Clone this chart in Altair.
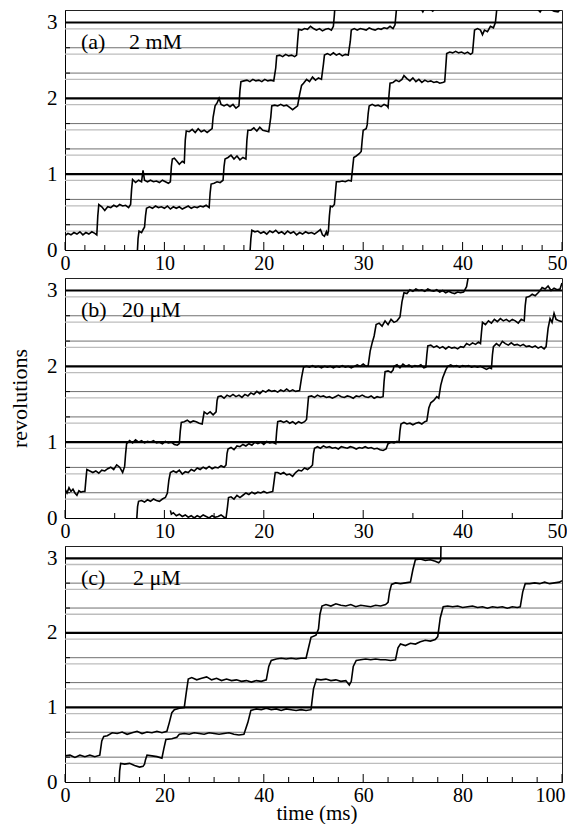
import altair as alt
import pandas as pd

FONT = "Liberation Serif"

panel_tags = ["(a)", "(b)", "(c)"]
concentrations = ["2 mM", "20 μM", "2 μM"]

y_labels = [0, 1, 2, 3]
rev_lines = [1, 2, 3]
third_lines = [0.333, 0.667, 1.333, 1.667, 2.333, 2.667]
substep_lines = [0.25, 0.583, 0.917, 1.25, 1.583, 1.917, 2.25, 2.583, 2.917]

x_major_ab = [0, 10, 20, 30, 40, 50]
x_minor_a = [2, 4, 6, 8, 12, 14, 16, 18, 22, 24, 26, 28, 32, 34, 36, 38, 42, 44, 46, 48]
x_minor_b = [5, 15, 25, 35, 45]
x_major_c = [0, 20, 40, 60, 80, 100]
x_minor_c = [5, 10, 15, 25, 30, 35, 45, 50, 55, 65, 70, 75, 85, 90, 95]

# ---------------- panel (a) 2 mM : time (ms), revolutions ----------------
trace_a1 = [
    [0, 0.19], [0.3, 0.22], [0.6, 0.2], [0.9, 0.23], [1.2, 0.21], [1.5, 0.24], [1.8, 0.2], [2.1, 0.23],
    [2.4, 0.21], [2.7, 0.24], [3.0, 0.22], [3.2, 0.2], [3.3, 0.45], [3.4, 0.6], [3.7, 0.57], [4.0, 0.52],
    [4.3, 0.57], [4.6, 0.56], [4.9, 0.59], [5.2, 0.57], [5.5, 0.6], [5.8, 0.58], [6.1, 0.59], [6.4, 0.56],
    [6.6, 0.6], [6.7, 0.8], [6.8, 0.93], [7.1, 0.89], [7.4, 0.92], [7.7, 0.9], [7.85, 1.05], [8.0, 0.92],
    [8.3, 0.9], [8.6, 0.92], [8.9, 0.9], [9.2, 0.91], [9.5, 0.89], [9.8, 0.92], [10.1, 0.9], [10.4, 0.88],
    [10.6, 0.9], [10.7, 1.1], [10.8, 1.2], [11.0, 1.21], [11.2, 1.18], [11.5, 1.13], [11.8, 1.17], [12.0, 1.15],
    [12.1, 1.45], [12.2, 1.57], [12.5, 1.56], [12.8, 1.59], [13.1, 1.55], [13.4, 1.6], [13.7, 1.56], [14.0, 1.58],
    [14.3, 1.55], [14.6, 1.58], [14.8, 1.6], [14.9, 1.75], [15.1, 1.9], [15.3, 1.94], [15.5, 2.0], [15.7, 1.92],
    [16.0, 1.9], [16.3, 1.92], [16.6, 1.89], [16.9, 1.92], [17.2, 1.87], [17.5, 1.9], [17.6, 2.1], [17.7, 2.22],
    [18.0, 2.23], [18.3, 2.24], [18.6, 2.22], [18.9, 2.25], [19.2, 2.23], [19.5, 2.24], [19.8, 2.22], [20.1, 2.25],
    [20.4, 2.23], [20.7, 2.24], [21.0, 2.23], [21.2, 2.4], [21.3, 2.56], [21.6, 2.57], [21.9, 2.55], [22.2, 2.58],
    [22.5, 2.56], [22.8, 2.57], [23.1, 2.55], [23.3, 2.57], [23.4, 2.75], [23.5, 2.91], [23.8, 2.9], [24.1, 2.92],
    [24.4, 2.91], [24.7, 2.95], [25.0, 2.92], [25.3, 2.9], [25.6, 2.92], [25.9, 2.89], [26.2, 2.91], [26.5, 2.92],
    [26.8, 2.9], [27.0, 2.95], [27.1, 3.1], [27.2, 3.3], [29.0, 3.3],
]
trace_a2 = [
    [7.27, -0.05], [7.35, 0.15], [7.45, 0.25], [7.7, 0.23], [7.9, 0.28], [8.0, 0.3], [8.1, 0.45], [8.2, 0.55],
    [8.5, 0.57], [8.8, 0.55], [9.1, 0.58], [9.4, 0.56], [9.7, 0.57], [10.0, 0.55], [10.3, 0.58], [10.6, 0.54],
    [10.9, 0.57], [11.2, 0.55], [11.5, 0.57], [11.8, 0.54], [12.1, 0.56], [12.4, 0.58], [12.7, 0.55], [13.0, 0.57],
    [13.3, 0.56], [13.6, 0.58], [13.9, 0.57], [14.2, 0.59], [14.5, 0.56], [14.6, 0.75], [14.7, 0.87], [15.0, 0.88],
    [15.3, 0.9], [15.6, 0.89], [15.9, 0.92], [16.0, 1.1], [16.1, 1.2], [16.4, 1.22], [16.7, 1.25], [17.0, 1.2],
    [17.3, 1.24], [17.6, 1.19], [17.9, 1.22], [18.2, 1.2], [18.3, 1.45], [18.4, 1.58], [18.7, 1.58], [19.0, 1.61],
    [19.3, 1.57], [19.6, 1.62], [19.9, 1.58], [20.2, 1.57], [20.5, 1.56], [20.7, 1.75], [20.8, 1.9], [21.1, 1.91],
    [21.4, 1.9], [21.7, 1.92], [22.0, 1.9], [22.3, 1.91], [22.6, 1.88], [22.9, 1.85], [23.2, 1.88], [23.4, 1.9],
    [23.6, 2.05], [23.8, 2.17], [24.0, 2.2], [24.3, 2.25], [24.6, 2.22], [24.9, 2.28], [25.2, 2.24], [25.5, 2.27],
    [25.8, 2.25], [26.0, 2.45], [26.1, 2.57], [26.4, 2.59], [26.7, 2.57], [27.0, 2.6], [27.3, 2.57], [27.6, 2.59],
    [27.9, 2.56], [28.2, 2.58], [28.5, 2.57], [28.7, 2.75], [28.8, 2.9], [29.1, 2.92], [29.4, 2.9], [29.7, 2.92],
    [30.0, 2.91], [30.3, 2.9], [30.6, 2.93], [30.9, 2.91], [31.2, 2.9], [31.5, 2.92], [31.8, 2.91], [32.1, 2.93],
    [32.4, 2.92], [32.7, 2.95], [33.0, 2.92], [33.2, 2.97], [33.4, 3.25], [35.5, 3.25], [36.0, 3.14], [36.3, 3.22],
    [37.0, 3.15], [37.5, 3.24], [40.0, 3.3],
]
trace_a3 = [
    [18.6, -0.05], [18.7, 0.15], [18.8, 0.26], [19.1, 0.24], [19.4, 0.25], [19.7, 0.22], [20.0, 0.24], [20.3, 0.21],
    [20.6, 0.25], [20.9, 0.23], [21.2, 0.26], [21.5, 0.22], [21.8, 0.24], [22.1, 0.21], [22.4, 0.25], [22.7, 0.22],
    [23.0, 0.24], [23.3, 0.2], [23.6, 0.23], [23.9, 0.21], [24.2, 0.24], [24.5, 0.22], [24.8, 0.23], [25.1, 0.21],
    [25.4, 0.24], [25.7, 0.27], [25.9, 0.2], [26.1, 0.18], [26.3, 0.24], [26.4, 0.19], [26.5, 0.25], [26.6, 0.45],
    [26.7, 0.58], [26.9, 0.57], [27.1, 0.6], [27.2, 0.75], [27.3, 0.9], [27.6, 0.9], [27.9, 0.91], [28.2, 0.9],
    [28.5, 0.92], [28.8, 0.91], [28.95, 1.1], [29.05, 1.22], [29.3, 1.24], [29.6, 1.27], [29.8, 1.3], [29.9, 1.45],
    [30.0, 1.58], [30.3, 1.6], [30.4, 1.65], [30.5, 1.8], [30.6, 1.9], [30.9, 1.92], [31.2, 1.9], [31.5, 1.91],
    [31.8, 1.89], [32.1, 1.92], [32.4, 1.9], [32.5, 1.88], [32.6, 2.05], [32.7, 2.2], [33.0, 2.21], [33.3, 2.24],
    [33.6, 2.22], [33.9, 2.25], [34.1, 2.3], [34.4, 2.26], [34.7, 2.23], [35.0, 2.27], [35.3, 2.22], [35.6, 2.25],
    [35.9, 2.21], [36.2, 2.24], [36.5, 2.22], [36.8, 2.23], [37.1, 2.21], [37.4, 2.22], [37.7, 2.2], [38.0, 2.21],
    [38.2, 2.22], [38.3, 2.4], [38.4, 2.59], [38.7, 2.61], [39.0, 2.6], [39.3, 2.62], [39.6, 2.6], [39.9, 2.61],
    [40.2, 2.59], [40.5, 2.61], [40.8, 2.58], [41.0, 2.6], [41.1, 2.75], [41.2, 2.9], [41.5, 2.92], [41.8, 2.9],
    [42.0, 2.84], [42.2, 2.9], [42.5, 2.88], [42.8, 2.95], [43.1, 2.93], [43.3, 3.0], [43.5, 3.25], [47.0, 3.25],
    [47.8, 3.14], [48.2, 3.22], [49.2, 3.15], [49.6, 3.14], [50.0, 3.2],
]

# ---------------- panel (b) 20 uM ----------------
trace_b1 = [
    [0, 0.38], [0.2, 0.33], [0.4, 0.4], [0.6, 0.35], [0.8, 0.38], [1.0, 0.33], [1.2, 0.3], [1.4, 0.36],
    [1.6, 0.34], [1.8, 0.35], [2.0, 0.35], [2.1, 0.5], [2.2, 0.64], [2.5, 0.62], [2.8, 0.6], [3.1, 0.62],
    [3.4, 0.59], [3.7, 0.63], [4.0, 0.62], [4.3, 0.65], [4.6, 0.67], [4.9, 0.64], [5.2, 0.7], [5.5, 0.67],
    [5.8, 0.6], [6.0, 0.68], [6.1, 0.85], [6.2, 0.98], [6.5, 1.02], [6.8, 0.99], [7.1, 1.03], [7.4, 1.0],
    [7.7, 1.02], [8.0, 0.99], [8.3, 1.01], [8.6, 1.0], [8.9, 1.02], [9.2, 0.99], [9.5, 1.0], [9.8, 0.98],
    [10.1, 1.01], [10.4, 0.99], [10.7, 1.0], [11.0, 0.97], [11.3, 0.96], [11.5, 0.98], [11.6, 1.15], [11.7, 1.26],
    [12.0, 1.27], [12.3, 1.29], [12.6, 1.26], [12.9, 1.28], [13.2, 1.27], [13.5, 1.25], [13.8, 1.24], [14.0, 1.4],
    [14.3, 1.37], [14.6, 1.4], [14.9, 1.36], [15.2, 1.4], [15.3, 1.55], [15.4, 1.6], [15.7, 1.61], [16.0, 1.58],
    [16.3, 1.62], [16.6, 1.6], [16.9, 1.63], [17.2, 1.6], [17.5, 1.62], [17.8, 1.59], [18.1, 1.63], [18.4, 1.61],
    [18.7, 1.65], [19.0, 1.63], [19.3, 1.67], [19.6, 1.64], [19.9, 1.68], [20.2, 1.66], [20.5, 1.69], [20.8, 1.67],
    [21.1, 1.68], [21.4, 1.66], [21.7, 1.69], [22.0, 1.67], [22.3, 1.7], [22.6, 1.67], [22.9, 1.69], [23.2, 1.67],
    [23.6, 1.68], [23.8, 1.85], [24.0, 1.99], [24.3, 2.0], [24.6, 1.99], [24.9, 2.01], [25.2, 1.99], [25.5, 2.0],
    [25.8, 1.98], [26.1, 2.0], [26.4, 1.99], [26.7, 2.0], [27.0, 1.98], [27.3, 2.0], [27.6, 1.99], [27.9, 2.01],
    [28.2, 1.99], [28.5, 2.0], [28.8, 1.98], [29.1, 2.0], [29.4, 2.02], [29.7, 2.0], [30.0, 2.03], [30.3, 2.0],
    [30.5, 2.01], [30.7, 2.2], [30.9, 2.31], [31.1, 2.4], [31.3, 2.55], [31.6, 2.57], [31.9, 2.53], [32.2, 2.6],
    [32.5, 2.55], [32.8, 2.62], [33.1, 2.58], [33.4, 2.6], [33.7, 2.65], [33.9, 2.85], [34.1, 2.97], [34.4, 2.96],
    [34.7, 3.01], [35.0, 2.99], [35.3, 3.02], [35.6, 3.0], [35.9, 3.01], [36.2, 2.99], [36.5, 3.02], [36.8, 3.0],
    [37.1, 2.99], [37.4, 3.01], [37.7, 2.98], [38.0, 3.0], [38.3, 2.97], [38.6, 2.99], [38.9, 2.97], [39.2, 2.96],
    [39.5, 2.98], [39.8, 2.97], [40.1, 2.98], [40.4, 3.05], [40.6, 3.2], [41.0, 3.3],
]
trace_b2 = [
    [7.2, -0.05], [7.3, 0.15], [7.4, 0.22], [7.7, 0.23], [8.0, 0.21], [8.3, 0.24], [8.6, 0.22], [8.9, 0.25],
    [9.2, 0.23], [9.5, 0.22], [9.8, 0.25], [10.1, 0.27], [10.3, 0.33], [10.45, 0.5], [10.6, 0.6], [10.9, 0.62],
    [11.2, 0.6], [11.5, 0.63], [11.8, 0.58], [12.1, 0.61], [12.4, 0.6], [12.7, 0.64], [13.0, 0.62], [13.3, 0.66],
    [13.6, 0.64], [13.9, 0.67], [14.2, 0.65], [14.5, 0.68], [14.8, 0.65], [15.1, 0.67], [15.4, 0.66], [15.7, 0.69],
    [16.0, 0.67], [16.2, 0.7], [16.3, 0.85], [16.4, 0.91], [16.7, 0.93], [17.0, 0.9], [17.3, 0.95], [17.6, 0.94],
    [17.9, 0.97], [18.2, 0.95], [18.5, 0.98], [18.8, 0.96], [19.1, 1.0], [19.4, 0.98], [19.7, 1.0], [20.0, 0.97],
    [20.3, 1.01], [20.6, 0.99], [20.9, 1.0], [21.2, 0.98], [21.3, 1.15], [21.4, 1.27], [21.7, 1.28], [22.0, 1.26],
    [22.3, 1.28], [22.6, 1.25], [22.9, 1.27], [23.2, 1.24], [23.5, 1.27], [23.8, 1.25], [24.1, 1.27], [24.3, 1.3],
    [24.4, 1.45], [24.5, 1.6], [24.8, 1.61], [25.1, 1.59], [25.4, 1.62], [25.7, 1.6], [26.0, 1.61], [26.3, 1.59],
    [26.6, 1.6], [26.9, 1.58], [27.2, 1.6], [27.5, 1.62], [27.8, 1.6], [28.1, 1.59], [28.4, 1.61], [28.7, 1.6],
    [29.0, 1.58], [29.3, 1.61], [29.6, 1.6], [29.9, 1.62], [30.2, 1.6], [30.5, 1.59], [30.8, 1.61], [31.1, 1.58],
    [31.4, 1.6], [31.7, 1.59], [32.0, 1.6], [32.1, 1.8], [32.2, 1.93], [32.5, 1.94], [32.8, 1.92], [33.0, 1.95],
    [33.1, 2.0], [33.4, 2.02], [33.7, 1.98], [34.0, 2.03], [34.3, 2.0], [34.6, 2.02], [34.9, 1.99], [35.2, 2.01],
    [35.5, 2.0], [35.8, 2.02], [36.1, 1.98], [36.3, 1.99], [36.4, 2.15], [36.5, 2.27], [36.8, 2.28], [37.1, 2.25],
    [37.4, 2.27], [37.7, 2.24], [38.0, 2.26], [38.3, 2.23], [38.6, 2.26], [38.9, 2.24], [39.2, 2.25], [39.5, 2.23],
    [39.8, 2.26], [40.1, 2.25], [40.4, 2.3], [40.7, 2.28], [41.0, 2.31], [41.3, 2.29], [41.6, 2.32], [41.8, 2.3],
    [41.9, 2.45], [42.0, 2.58], [42.3, 2.55], [42.6, 2.6], [42.9, 2.57], [43.2, 2.62], [43.5, 2.59], [43.8, 2.63],
    [44.1, 2.6], [44.4, 2.62], [44.7, 2.59], [45.0, 2.62], [45.3, 2.6], [45.6, 2.57], [45.9, 2.62], [46.2, 2.6],
    [46.3, 2.8], [46.4, 2.91], [46.7, 2.92], [47.0, 2.95], [47.3, 2.93], [47.6, 2.97], [47.8, 3.0], [48.0, 3.04],
    [48.3, 3.02], [48.6, 3.06], [48.9, 3.0], [49.2, 3.03], [49.5, 3.01], [49.8, 3.02], [50.0, 3.1],
]
trace_b3 = [
    [10.6, 0.1], [10.7, 0.05], [10.9, 0.07], [11.2, 0.03], [11.5, 0.05], [11.8, 0.02], [12.1, 0.04], [12.4, 0.01],
    [12.7, 0.03], [13.0, 0.0], [13.3, 0.03], [13.6, 0.01], [13.9, 0.04], [14.2, 0.02], [14.5, 0.0], [14.8, 0.03],
    [15.1, 0.01], [15.4, 0.02], [15.7, 0.04], [16.0, 0.01], [16.2, 0.0], [16.35, 0.15], [16.45, 0.27], [16.7, 0.28],
    [17.0, 0.25], [17.3, 0.3], [17.6, 0.27], [17.9, 0.3], [18.2, 0.33], [18.5, 0.31], [18.8, 0.34], [19.1, 0.32],
    [19.4, 0.34], [19.7, 0.33], [20.0, 0.35], [20.3, 0.33], [20.6, 0.34], [20.9, 0.35], [21.05, 0.5], [21.15, 0.6],
    [21.4, 0.6], [21.7, 0.58], [22.0, 0.6], [22.3, 0.57], [22.6, 0.58], [22.9, 0.55], [23.2, 0.6], [23.5, 0.63],
    [23.8, 0.62], [24.1, 0.66], [24.4, 0.64], [24.7, 0.67], [24.9, 0.7], [25.0, 0.85], [25.1, 0.92], [25.4, 0.94],
    [25.7, 0.92], [26.0, 0.95], [26.3, 0.93], [26.6, 0.94], [26.9, 0.92], [27.2, 0.93], [27.5, 0.91], [27.8, 0.94],
    [28.1, 0.93], [28.4, 0.92], [28.7, 0.94], [29.0, 0.93], [29.3, 0.91], [29.6, 0.93], [29.9, 0.92], [30.2, 0.94],
    [30.5, 0.92], [30.8, 0.93], [31.1, 0.91], [31.4, 0.92], [31.7, 0.9], [32.0, 0.89], [32.3, 0.91], [32.5, 0.98],
    [32.8, 1.0], [33.1, 0.99], [33.4, 1.01], [33.6, 1.0], [33.7, 1.15], [33.8, 1.24], [34.1, 1.26], [34.4, 1.24],
    [34.7, 1.25], [35.0, 1.23], [35.3, 1.25], [35.6, 1.26], [35.9, 1.24], [36.2, 1.27], [36.4, 1.28], [36.6, 1.45],
    [36.8, 1.52], [37.1, 1.55], [37.4, 1.6], [37.6, 1.58], [37.8, 1.75], [38.0, 1.85], [38.3, 1.95], [38.5, 2.0],
    [38.8, 2.02], [39.1, 2.0], [39.4, 2.01], [39.7, 1.99], [40.0, 2.01], [40.3, 2.0], [40.6, 2.01], [40.9, 1.99],
    [41.2, 2.0], [41.5, 1.99], [41.8, 2.0], [42.1, 1.98], [42.4, 1.96], [42.7, 1.98], [42.9, 1.97], [43.0, 2.15],
    [43.1, 2.26], [43.4, 2.3], [43.7, 2.27], [44.0, 2.33], [44.3, 2.3], [44.6, 2.28], [44.9, 2.31], [45.2, 2.28],
    [45.5, 2.29], [45.8, 2.27], [46.1, 2.29], [46.4, 2.26], [46.7, 2.27], [47.0, 2.25], [47.3, 2.27], [47.6, 2.24],
    [47.9, 2.26], [48.2, 2.23], [48.4, 2.26], [48.6, 2.5], [48.8, 2.63], [49.0, 2.58], [49.2, 2.7], [49.4, 2.62],
    [49.7, 2.6], [50.0, 2.59],
]

# ---------------- panel (c) 2 uM ----------------
trace_c1 = [
    [0, 0.35], [1, 0.36], [2, 0.33], [3, 0.36], [4, 0.34], [5, 0.36], [6, 0.34], [7, 0.36], [7.4, 0.55],
    [7.8, 0.61], [8.5, 0.62], [9.5, 0.66], [10.5, 0.65], [11.5, 0.67], [12.5, 0.64], [13.5, 0.66], [14.5, 0.68],
    [15.5, 0.65], [16.5, 0.67], [17.5, 0.66], [18.5, 0.68], [19.5, 0.66], [20.5, 0.68], [21.0, 0.8], [21.5, 0.93],
    [22, 0.97], [23, 0.99], [24, 1.0], [24.4, 1.2], [24.8, 1.38], [25.5, 1.4], [26.5, 1.37], [27.5, 1.39],
    [28.5, 1.41], [29.5, 1.37], [30.5, 1.39], [31.5, 1.36], [32.5, 1.38], [33.5, 1.36], [34.5, 1.37], [35.5, 1.35],
    [36.5, 1.36], [37.5, 1.34], [38.5, 1.36], [39.5, 1.35], [40.5, 1.37], [41.0, 1.55], [41.5, 1.63], [42.5, 1.65],
    [43.5, 1.66], [44.5, 1.65], [45.5, 1.66], [46.5, 1.65], [47.5, 1.66], [48.5, 1.66], [49.0, 1.8], [49.5, 1.94],
    [50.5, 1.97], [51.0, 2.05], [51.3, 2.25], [51.7, 2.36], [52.5, 2.38], [53.5, 2.36], [54.5, 2.39], [55.5, 2.37],
    [56.5, 2.36], [57.5, 2.38], [58.5, 2.35], [59.5, 2.37], [60.5, 2.36], [61.5, 2.35], [62.5, 2.37], [63.5, 2.36],
    [64.5, 2.38], [65.0, 2.41], [65.3, 2.55], [65.7, 2.65], [66.5, 2.67], [67.5, 2.66], [68.5, 2.67], [69.5, 2.68],
    [70.0, 2.85], [70.5, 2.98], [71.5, 2.99], [72.5, 2.97], [73.5, 2.98], [74.5, 2.96], [75.2, 2.94], [75.6, 2.97],
    [75.7, 3.4],
]
trace_c2 = [
    [10.9, 0.0], [11.0, 0.15], [11.2, 0.25], [12, 0.24], [13, 0.25], [14, 0.22], [15, 0.2], [15.7, 0.21],
    [16.0, 0.24], [16.2, 0.3], [16.5, 0.36], [17.5, 0.35], [18.5, 0.34], [19.5, 0.32], [19.9, 0.45], [20.3, 0.57],
    [21.5, 0.58], [22.5, 0.6], [23, 0.64], [24, 0.65], [25, 0.64], [26, 0.66], [27, 0.65], [28, 0.64], [29, 0.66],
    [30, 0.65], [31, 0.64], [32, 0.65], [33, 0.66], [34, 0.64], [35, 0.63], [36, 0.64], [36.8, 0.8], [37.4, 0.96],
    [38.5, 0.98], [39.5, 0.97], [40.5, 0.99], [41.5, 0.97], [42.5, 0.98], [43.5, 0.96], [44.5, 0.98], [45.5, 0.97],
    [46.5, 0.96], [47.5, 0.97], [48.5, 0.96], [49.5, 0.97], [50.0, 1.25], [50.6, 1.38], [51.5, 1.37], [52.5, 1.38],
    [53.5, 1.36], [54.5, 1.37], [55.5, 1.35], [56.5, 1.36], [57.2, 1.3], [57.6, 1.35], [58.0, 1.55], [58.6, 1.63],
    [59.5, 1.64], [60.5, 1.65], [61.5, 1.64], [62.5, 1.65], [63.5, 1.64], [64.5, 1.64], [65.5, 1.63], [66.5, 1.64],
    [67.0, 1.8], [67.5, 1.85], [68.5, 1.83], [69.5, 1.86], [70.5, 1.85], [71.5, 1.88], [72.5, 1.9], [73.5, 1.89],
    [74.5, 1.91], [75.0, 1.95], [75.5, 2.2], [76.1, 2.35], [77, 2.36], [78, 2.35], [79, 2.36], [80, 2.34],
    [81, 2.35], [82, 2.36], [83, 2.34], [84, 2.35], [85, 2.33], [86, 2.35], [87, 2.34], [88, 2.35], [89, 2.33],
    [90, 2.35], [91, 2.34], [91.6, 2.35], [92.1, 2.55], [92.6, 2.66], [93.5, 2.66], [94.5, 2.67], [95.5, 2.66],
    [96.5, 2.68], [97.5, 2.66], [98.5, 2.67], [99.5, 2.68], [100, 2.7],
]

Y_TOP = 3.165
PLOT_W = 497


def make_panel(traces, xmax, majors, minors, idx, height, conc_x, last_shift, ytitle=False, xtitle=False):
    xs = alt.Scale(domain=[0, xmax], nice=False, zero=False)
    ys = alt.Scale(domain=[0, Y_TOP], nice=False, zero=False)
    rows = []
    for k, tr in enumerate(traces):
        for i, (t, r) in enumerate(tr):
            rows.append({"trace": k, "i": i, "t": t, "r": r})
    df = pd.DataFrame(rows)

    xaxis_kw = dict(values=majors, ticks=False, grid=False, labelFont=FONT, labelFontSize=20,
                    labelColor="black", labelPadding=3, domainColor="black", domainWidth=1,
                    labelFlush=False, labelOverlap=False,
                    labelOffset={"condition": {"test": f"datum.value == {xmax}", "value": last_shift},
                                 "value": 0})
    if xtitle:
        xaxis_kw.update(title="time (ms)", titleFont=FONT, titleFontSize=21, titleFontWeight="normal",
                        titleColor="black", titleY=31, titleX=PLOT_W / 2 + 3, titleBaseline="middle")
    else:
        xaxis_kw.update(title=None)
    yaxis_kw = dict(values=y_labels, ticks=False, grid=False, labelFont=FONT, labelFontSize=21,
                    labelColor="black", labelPadding=8, domainColor="black", domainWidth=1, format="d",
                    labelFlush=False, labelOverlap=False)
    if ytitle:
        yaxis_kw.update(title="revolutions", titleFont=FONT, titleFontSize=22, titleFontWeight="normal",
                        titleColor="black", titleX=-46, titleY=height / 2, titleAngle=270,
                        titleAlign="center", titleBaseline="middle")
    else:
        yaxis_kw.update(title=None)

    def xenc(field):
        return alt.X(field, scale=xs, axis=alt.Axis(**xaxis_kw))

    def yenc(field):
        return alt.Y(field, scale=ys, axis=alt.Axis(**yaxis_kw))

    light = alt.Chart(pd.DataFrame({"v": substep_lines})).mark_rule(
        color="#bdbdbd", strokeWidth=1.3).encode(y=yenc("v:Q"))
    dark = alt.Chart(pd.DataFrame({"v": third_lines})).mark_rule(
        color="#707070", strokeWidth=1).encode(y=yenc("v:Q"))
    black = alt.Chart(pd.DataFrame({"v": rev_lines})).mark_rule(
        color="black", strokeWidth=2.2).encode(y=yenc("v:Q"))

    lines = alt.Chart(df).mark_line(clip=True, color="black", strokeWidth=1.6).encode(
        x=xenc("t:Q"),
        y=yenc("r:Q"),
        detail="trace:N",
        order="i:Q",
    )

    major_ticks = alt.Chart(pd.DataFrame({"t": majors})).mark_rule(color="black", strokeWidth=1).encode(
        x=xenc("t:Q"), y=alt.value(height), y2=alt.value(height - 8))
    minor_ticks = alt.Chart(pd.DataFrame({"t": minors})).mark_rule(color="black", strokeWidth=1).encode(
        x=xenc("t:Q"), y=alt.value(height), y2=alt.value(height - 5))
    y_ticks = alt.Chart(pd.DataFrame({"v": third_lines})).mark_rule(color="black", strokeWidth=1).encode(
        y=yenc("v:Q"), x=alt.value(0), x2=alt.value(5))

    tag = alt.Chart(pd.DataFrame({"s": [panel_tags[idx]]})).mark_text(
        font=FONT, fontSize=22, align="left", baseline="middle", color="black").encode(
        x=alt.value(16), y=alt.value(32), text="s:N")
    conc = alt.Chart(pd.DataFrame({"s": [concentrations[idx]]})).mark_text(
        font=FONT, fontSize=22, align="left", baseline="middle", color="black").encode(
        x=alt.value(conc_x), y=alt.value(32), text="s:N")

    return alt.layer(light, dark, black, lines, major_ticks, minor_ticks, y_ticks, tag, conc).properties(
        width=PLOT_W, height=height)


panel_a = make_panel([trace_a1, trace_a2, trace_a3], 50, x_major_ab, x_minor_a, 0, 240, 64, -5)
panel_b = make_panel([trace_b1, trace_b2, trace_b3], 50, x_major_ab, x_minor_b, 1, 240, 57, -5, ytitle=True)
panel_c = make_panel([trace_c1, trace_c2], 100, x_major_c, x_minor_c, 2, 236, 68, -12, xtitle=True)

chart = alt.vconcat(panel_a, panel_b, panel_c, spacing=28, bounds="flush").configure_view(
    stroke="#222222", strokeWidth=1
).properties(padding={"left": -1, "top": 1, "right": -1, "bottom": 0})

chart.save("out.html", embed_options={"renderer": "svg", "actions": False})
